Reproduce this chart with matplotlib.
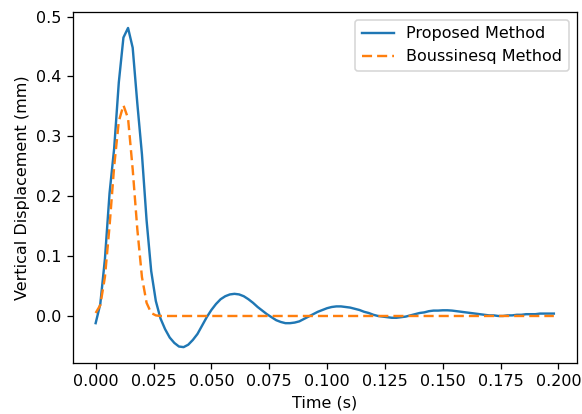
import matplotlib
matplotlib.use('Agg')
import matplotlib.pyplot as plt
import numpy as np

# time grid, 2 ms steps from 0 to 0.198 s
time_s = np.arange(100) * 0.002

proposed = [
    -0.012, 0.020, 0.095, 0.205, 0.280, 0.390, 0.465, 0.481, 0.448, 0.355,
    0.270, 0.160, 0.075, 0.025, -0.004, -0.022, -0.036, -0.045, -0.051, -0.052,
    -0.048, -0.040, -0.030, -0.016, -0.002, 0.010, 0.020, 0.028, 0.033, 0.036,
    0.037, 0.036, 0.033, 0.028, 0.022, 0.015, 0.009, 0.003, -0.002, -0.007,
    -0.010, -0.012, -0.012, -0.011, -0.009, -0.005, -0.001, 0.003, 0.007, 0.010,
    0.013, 0.015, 0.016, 0.016, 0.015, 0.014, 0.012, 0.010, 0.007, 0.005,
    0.002, 0.000, -0.001, -0.002, -0.003, -0.003, -0.002, -0.001, 0.001, 0.003,
    0.005, 0.006, 0.008, 0.009, 0.009, 0.0095, 0.0095, 0.009, 0.008, 0.007,
    0.006, 0.005, 0.004, 0.003, 0.002, 0.001, 0.001, 0.000, 0.000, 0.001,
    0.001, 0.002, 0.002, 0.003, 0.003, 0.003, 0.004, 0.004, 0.004, 0.004,
]

boussinesq = [
    0.005, 0.018, 0.065, 0.150, 0.250, 0.325, 0.352, 0.330, 0.245, 0.145,
    0.065, 0.022, 0.005, 0.001,
] + [0.0] * 86


def main():
    dpi = 115
    fig, ax = plt.subplots(figsize=(582 / dpi, 414 / dpi), dpi=dpi)
    fig.subplots_adjust(left=0.125, right=0.991, bottom=0.123, top=0.971)

    ax.plot(time_s, proposed, label='Proposed Method')
    ax.plot(time_s, boussinesq, '--', dashes=(4.2, 2.1), label='Boussinesq Method')
    ax.set_xlabel('Time (s)')
    ax.set_ylabel('Vertical Displacement (mm)')
    ax.legend(loc='upper right')

    fig.savefig('out.png', dpi=dpi)


if __name__ == '__main__':
    main()
